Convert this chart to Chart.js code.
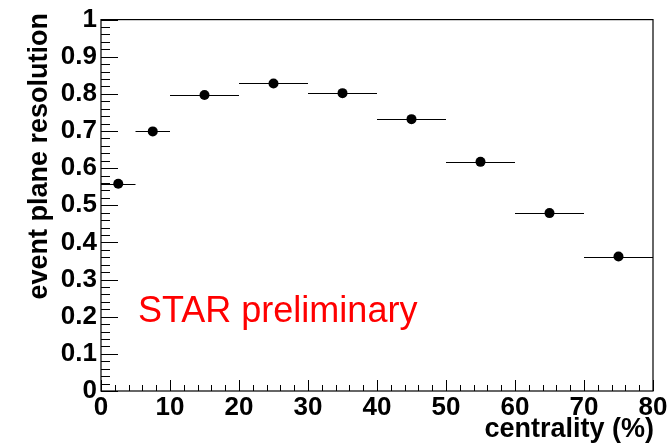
<!DOCTYPE html>
<html>
<head>
<meta charset="utf-8">
<script src="https://cdn.jsdelivr.net/npm/chart.js@4/dist/chart.umd.min.js"></script>
<style>
  html, body { margin: 0; padding: 0; background: #fff; }
  #wrap { width: 672px; height: 445px; position: relative; }
</style>
</head>
<body>
<div id="wrap"><canvas id="c" width="672" height="445"></canvas></div>
<script>
// ---- data ----
const centrality = [2.5, 7.5, 15, 25, 35, 45, 55, 65, 75];
const binLow     = [0, 5, 10, 20, 30, 40, 50, 60, 70];
const binHigh    = [5, 10, 20, 30, 40, 50, 60, 70, 80];
const resolution = [0.558, 0.699, 0.797, 0.828, 0.802, 0.732, 0.617, 0.479, 0.362];
const xTitle = 'centrality (%)';
const yTitle = 'event plane resolution';
const watermark = 'STAR preliminary';

const FONT = '"Liberation Sans", Arial, Helvetica, sans-serif';

const points = centrality.map((x, i) => ({ x: x, y: resolution[i] }));

const rootPlugin = {
  id: 'rootStyle',
  beforeDatasetsDraw(chart) {
    const { ctx, chartArea: a, scales: { x, y } } = chart;
    ctx.save();
    // horizontal bin-width bars
    ctx.strokeStyle = '#000';
    ctx.lineWidth = 1;
    for (let i = 0; i < centrality.length; i++) {
      const py = Math.round(y.getPixelForValue(resolution[i])) + 0.5;
      ctx.beginPath();
      ctx.moveTo(x.getPixelForValue(binLow[i]), py);
      ctx.lineTo(x.getPixelForValue(binHigh[i]), py);
      ctx.stroke();
    }
    ctx.restore();
  },
  afterDraw(chart) {
    const { ctx, chartArea: a, scales: { x, y } } = chart;
    ctx.save();
    ctx.strokeStyle = '#000';
    ctx.lineWidth = 1.2;
    ctx.strokeRect(a.left, a.top, a.right - a.left, a.bottom - a.top);
    ctx.lineWidth = 1;
    // y ticks (inside, from left axis)
    for (let k = 0; k <= 50; k++) {
      const v = k * 0.02;
      const py = Math.round(y.getPixelForValue(v)) + 0.5;
      const len = (k % 5 === 0) ? 17 : 9;
      ctx.beginPath();
      ctx.moveTo(a.left, py);
      ctx.lineTo(a.left + len, py);
      ctx.stroke();
    }
    // x ticks (inside, from bottom axis)
    for (let k = 0; k <= 40; k++) {
      const v = k * 2;
      const px = Math.round(x.getPixelForValue(v)) + 0.5;
      const len = (k % 5 === 0) ? 11 : 6;
      ctx.beginPath();
      ctx.moveTo(px, a.bottom);
      ctx.lineTo(px, a.bottom - len);
      ctx.stroke();
    }
    // axis titles
    ctx.fillStyle = '#000';
    ctx.font = 'bold 27px ' + FONT;
    ctx.textAlign = 'right';
    ctx.textBaseline = 'alphabetic';
    ctx.fillText(xTitle, 654, 437);
    ctx.save();
    ctx.translate(47, 13);
    ctx.rotate(-Math.PI / 2);
    ctx.textAlign = 'right';
    ctx.fillText(yTitle, 0, 0);
    ctx.restore();
    // watermark
    ctx.fillStyle = '#ff0000';
    ctx.font = '36px ' + FONT;
    ctx.textAlign = 'left';
    ctx.fillText(watermark, 138, 322);
    ctx.restore();
  }
};

new Chart(document.getElementById('c'), {
  type: 'scatter',
  data: {
    datasets: [{
      data: points,
      pointRadius: 5,
      pointHoverRadius: 5,
      pointBackgroundColor: '#000',
      pointBorderColor: '#000',
      pointBorderWidth: 0,
      showLine: false
    }]
  },
  options: {
    responsive: false,
    animation: false,
    events: [],
    layout: { padding: { top: 18, right: 19, left: 0, bottom: 0 } },
    plugins: { legend: { display: false }, tooltip: { enabled: false } },
    scales: {
      x: {
        type: 'linear',
        min: 0, max: 80,
        afterFit: (s) => { s.height = 54; },
        grid: { display: false, drawTicks: false },
        border: { display: false },
        ticks: {
          stepSize: 10,
          padding: 1,
          color: '#000',
          font: { family: FONT, size: 26, weight: 'bold' },
          maxRotation: 0,
          callback: (v) => String(v)
        }
      },
      y: {
        type: 'linear',
        min: 0, max: 1,
        afterFit: (s) => { s.width = 101; },
        grid: { display: false, drawTicks: false },
        border: { display: false },
        ticks: {
          stepSize: 0.1,
          padding: 4,
          color: '#000',
          font: { family: FONT, size: 26, weight: 'bold' },
          callback: (v) => String(Number(v.toFixed(1)))
        }
      }
    }
  },
  plugins: [rootPlugin]
});
</script>
</body>
</html>
